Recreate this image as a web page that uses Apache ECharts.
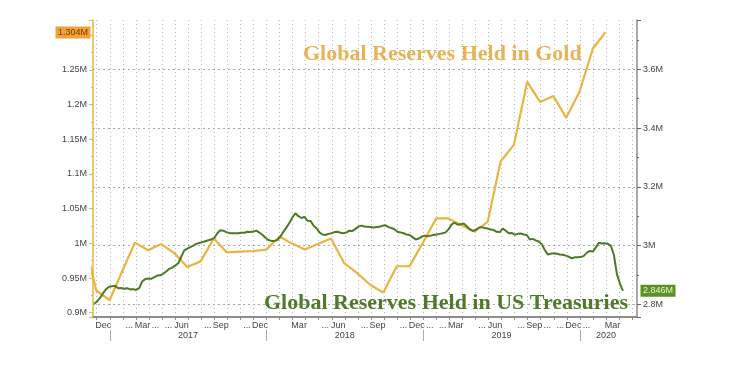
<!DOCTYPE html>
<html><head><meta charset="utf-8">
<script src="https://cdn.jsdelivr.net/npm/echarts@6/dist/echarts.min.js"></script>
<style>html,body{margin:0;padding:0;background:#fff}#c{width:734px;height:371px}</style>
</head><body><div id="c"></div><script>
// Gold reserves, month-end values (millions)
const goldDates = ['2016-10-31','2016-11-30','2016-12-31',
 '2017-01-31','2017-02-28','2017-03-31','2017-04-30','2017-05-31','2017-06-30','2017-07-31','2017-08-31','2017-09-30','2017-10-31','2017-11-30','2017-12-31',
 '2018-01-31','2018-02-28','2018-03-31','2018-04-30','2018-05-31','2018-06-30','2018-07-31','2018-08-31','2018-09-30','2018-10-31','2018-11-30','2018-12-31',
 '2019-01-31','2019-02-28','2019-03-31','2019-04-30','2019-05-31','2019-06-30','2019-07-31','2019-08-31','2019-09-30','2019-10-31','2019-11-30','2019-12-31',
 '2020-01-31','2020-02-29'];
const goldValues = [1.010,0.932,0.918,
 0.962,1.001,0.990,0.999,0.986,0.966,0.974,1.007,0.987,0.988,0.989,0.991,
 1.010,1.000,0.991,0.999,1.007,0.972,0.957,0.940,0.929,0.967,0.967,1.001,
 1.036,1.036,1.026,1.017,1.031,1.118,1.142,1.233,1.204,1.2125,1.181,1.219,
 1.281,1.304];

// US Treasuries held, weekly (Fridays from tsyStart)
const tsyStart = '2016-11-25';
const tsyValues = [
 2.802,2.810,2.822,2.838,2.852,2.860,2.862,2.863,2.855,2.856,
 2.853,2.855,2.851,2.852,2.849,2.855,2.878,2.886,2.888,2.887,
 2.893,2.898,2.899,2.904,2.912,2.921,2.925,2.932,2.940,2.962,
 2.984,2.990,2.995,3.000,3.006,3.009,3.012,3.015,3.018,3.021,
 3.026,3.042,3.052,3.051,3.046,3.043,3.042,3.042,3.042,3.044,
 3.044,3.047,3.046,3.048,3.051,3.044,3.037,3.027,3.019,3.016,
 3.016,3.019,3.031,3.047,3.061,3.078,3.096,3.110,3.100,3.094,
 3.098,3.085,3.084,3.069,3.059,3.045,3.038,3.036,3.040,3.042,
 3.046,3.047,3.044,3.042,3.045,3.051,3.050,3.057,3.065,3.068,
 3.065,3.064,3.063,3.062,3.063,3.064,3.068,3.069,3.063,3.060,
 3.055,3.047,3.045,3.042,3.038,3.036,3.029,3.021,3.024,3.030,
 3.034,3.032,3.034,3.036,3.038,3.040,3.042,3.045,3.056,3.072,
 3.078,3.071,3.073,3.075,3.066,3.056,3.050,3.053,3.061,3.063,
 3.060,3.058,3.055,3.053,3.047,3.046,3.058,3.051,3.042,3.043,
 3.037,3.040,3.041,3.038,3.036,3.021,3.023,3.018,3.014,3.005,
 2.985,2.970,2.972,2.974,2.972,2.970,2.969,2.966,2.962,2.957,
 2.960,2.960,2.961,2.965,2.976,2.982,2.980,2.994,3.010,3.007,
 3.008,3.006,2.999,2.968,2.903,2.871,2.846];

// x-axis month bands and labels
const monthKeys = ['2016-12',
 '2017-01','2017-02','2017-03','2017-04','2017-05','2017-06','2017-07','2017-08','2017-09','2017-10','2017-11','2017-12',
 '2018-01','2018-02','2018-03','2018-04','2018-05','2018-06','2018-07','2018-08','2018-09','2018-10','2018-11','2018-12',
 '2019-01','2019-02','2019-03','2019-04','2019-05','2019-06','2019-07','2019-08','2019-09','2019-10','2019-11','2019-12',
 '2020-01','2020-02','2020-03','2020-04','2020-05'];
const monthLabels = ['Dec',
 '','...','Mar','...','...','Jun','','...','Sep','','...','Dec',
 '','','Mar','','...','Jun','','...','Sep','','...','Dec',
 '...','...','Mar','','...','Jun','','...','Sep','...','...','Dec',
 '...','','Mar','',''];
const boundaryKeys = monthKeys.concat(['2020-06']);
const yearLabels = {'2017-07':'2017','2018-07':'2018','2019-07':'2019','2020-03':'2020'};

const goldTitle = 'Global Reserves Held in Gold';
const tsyTitle = 'Global Reserves Held in US Treasuries';

const GOLD = '#EBB341', GREEN = '#4E7A25';
const labelFont = "'Liberation Sans', Arial, sans-serif";
const X_MIN = '2016-11-22 10:00:00', X_MAX = '2020-05-12 19:00:00';

function pad(n){return (n<10?'0':'')+n;}
const tsyDates = [];
{
  const d0 = new Date(tsyStart + 'T00:00:00Z');
  for (let i = 0; i < tsyValues.length; i++) {
    const d = new Date(d0.getTime() + i*7*86400000);
    tsyDates.push(d.getUTCFullYear()+'-'+pad(d.getUTCMonth()+1)+'-'+pad(d.getUTCDate()));
  }
}
const goldData = goldDates.map((d,i)=>[d, goldValues[i]]);
const tsyData = tsyDates.map((d,i)=>[d, tsyValues[i]]);
function fmtM(v){ return (+(+v).toFixed(3)) + 'M'; }
const goldLast = goldValues[goldValues.length-1];
const tsyLast = tsyValues[tsyValues.length-1];

const chart = echarts.init(document.getElementById('c'), null, {renderer:'canvas'});
chart.setOption({
  animation:false,
  backgroundColor:'#fff',
  title:[
    {text: goldTitle, left: 303, top: 43, padding:0,
     textStyle:{fontFamily:"'Liberation Serif', 'Times New Roman', serif", fontWeight:'bold', fontSize:22, color:'#E6B456'}},
    {text: tsyTitle, left: 264, top: 292, padding:0,
     textStyle:{fontFamily:"'Liberation Serif', 'Times New Roman', serif", fontWeight:'bold', fontSize:22, color:'#507A2A'}}
  ],
  grid:[
    {left:93, right:97, top:20, bottom:54},
    {left:96.7, right:88.8, top:20, bottom:54}
  ],
  xAxis:[
    {type:'time', gridIndex:0, position:'bottom', min:X_MIN, max:X_MAX,
     axisLine:{show:true, lineStyle:{color:'#8c8c8c', width:2}},
     axisTick:{show:false}, axisLabel:{show:false}, splitLine:{show:false}},
    {type:'category', gridIndex:1, position:'bottom', boundaryGap:false, data:boundaryKeys,
     axisLine:{show:false},
     axisTick:{show:true, length:3, interval:(i)=>i<boundaryKeys.length-1, lineStyle:{color:'#8c8c8c'}},
     axisLabel:{show:false},
     splitLine:{show:true, interval:(i)=>i<boundaryKeys.length-1, lineStyle:{color:'#b8b8b8', type:[1,3], width:1}}},
    {type:'category', gridIndex:1, position:'bottom', boundaryGap:true, data:monthKeys,
     axisLine:{show:false}, axisTick:{show:false}, splitLine:{show:false},
     axisLabel:{show:true, interval:0, margin:4, fontSize:9, fontFamily:labelFont, color:'#444',
       formatter:(v,i)=>monthLabels[i]}},
    {type:'category', gridIndex:1, position:'bottom', boundaryGap:false, data:boundaryKeys, offset:13,
     axisLine:{show:false}, splitLine:{show:false},
     axisTick:{show:true, length:11, interval:(i,v)=>/-01$/.test(v), lineStyle:{color:'#aaa', width:1}},
     axisLabel:{show:true, interval:0, margin:1, fontSize:9, fontFamily:labelFont, color:'#444',
       formatter:(v)=>yearLabels[v]||''}}
  ],
  yAxis:[
    {type:'value', gridIndex:0, position:'left', min:0.8938, max:1.3221, minInterval:0.05, maxInterval:0.05,
     axisLine:{show:true, lineStyle:{color:GOLD, width:1.5}},
     axisTick:{show:true, length:4, lineStyle:{color:GOLD}},
     minorTick:{show:true, splitNumber:2, length:2, lineStyle:{color:GOLD}},
     splitLine:{show:false},
     axisLabel:{margin:6, fontSize:9, fontFamily:labelFont, color:'#444', showMinLabel:false, showMaxLabel:false,
       formatter:(v)=> v>1.29 ? '' : fmtM(v)}},
    {type:'value', gridIndex:0, position:'right', min:2.757, max:3.768, minInterval:0.2, maxInterval:0.2,
     axisLine:{show:true, lineStyle:{color:'#8c8c8c', width:1.5}},
     axisTick:{show:true, length:4, lineStyle:{color:'#666'}},
     minorTick:{show:true, splitNumber:2, length:2, lineStyle:{color:'#666'}},
     splitLine:{show:true, showMinLine:false, showMaxLine:false, lineStyle:{color:'#aaa', type:[2,3], width:1}},
     axisLabel:{margin:6, fontSize:9, fontFamily:labelFont, color:'#444', showMinLabel:false, showMaxLabel:false,
       formatter:(v)=>fmtM(v)}},
    {type:'value', gridIndex:1, show:false}
  ],
  series:[
    {name:'Gold', type:'line', xAxisIndex:0, yAxisIndex:0, data:goldData, showSymbol:false,
     lineStyle:{color:GOLD, width:2.2}, itemStyle:{color:GOLD}, z:3,
     markPoint:{silent:true, symbol:'rect', symbolSize:[35,12], symbolOffset:[-20,0],
       itemStyle:{color:'#F1A235'},
       label:{show:true, position:'inside', formatter:fmtM(goldLast), color:'#7A3A00', fontSize:9, fontFamily:labelFont},
       data:[{coord:[X_MIN, goldLast]}]}},
    {name:'Treasuries', type:'line', xAxisIndex:0, yAxisIndex:1, data:tsyData, showSymbol:false,
     lineStyle:{color:GREEN, width:2}, itemStyle:{color:GREEN}, z:4,
     markPoint:{silent:true, symbol:'rect', symbolSize:[35,12], symbolOffset:[21,0],
       itemStyle:{color:'#5C9127'},
       label:{show:true, position:'inside', formatter:fmtM(tsyLast), color:'#E8F5D0', fontSize:9, fontFamily:labelFont},
       data:[{coord:[X_MAX, tsyLast]}]}},
    {name:'bands', type:'line', xAxisIndex:1, yAxisIndex:2, data:[], showSymbol:false}
  ]
});
</script></body></html>
